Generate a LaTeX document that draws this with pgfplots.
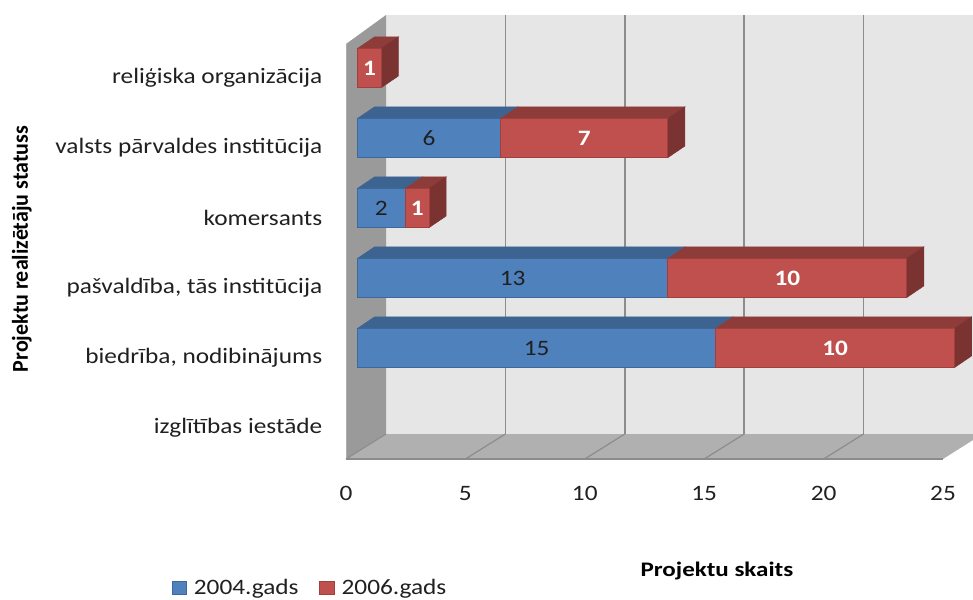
\documentclass[border=0pt]{standalone}
\usepackage{fontspec}
\setmainfont{Carlito}
\newfontfamily\wide[FakeStretch=1.15]{Carlito}
\newfontfamily\widebold[FakeStretch=1.21]{Carlito}
\newfontfamily\narrowf[FakeStretch=0.97]{Carlito}
\usepackage{pgfplots}
\pgfplotsset{compat=1.18}
\newlength\pxu \setlength\pxu{0.75pt}
\definecolor{bfront}{HTML}{4F81BD}
\definecolor{bedge}{HTML}{3F689A}
\definecolor{btop}{HTML}{3D6390}
\definecolor{rfront}{HTML}{C0504D}
\definecolor{redge}{HTML}{A03F3C}
\definecolor{rtop}{HTML}{8E3C39}
\definecolor{rside}{HTML}{7B3331}
\definecolor{wallL}{HTML}{9A9A9A}
\definecolor{wallB}{HTML}{E6E6E6}
\definecolor{floorc}{HTML}{B0B0B0}
\definecolor{gridc}{HTML}{8C8C8C}
\definecolor{txt}{HTML}{202020}
% top and side faces of a bar segment from #1 to #2 in row #3
\newcommand{\topface}[4]{%
  \pgfmathsetmacro\ya{#3+0.279}\pgfmathsetmacro\yb{#3+0.279+0.165}%
  \pgfmathsetmacro\xc{#2+0.712}\pgfmathsetmacro\xd{#1+0.712}%
  \addplot[fill=#4,draw=#4] coordinates {(#1,\ya)(#2,\ya)(\xc,\yb)(\xd,\yb)} --cycle;}
\newcommand{\sideface}[2]{%
  \pgfmathsetmacro\ya{#2+0.279}\pgfmathsetmacro\yb{#2+0.279+0.165}%
  \pgfmathsetmacro\yc{#2-0.279}\pgfmathsetmacro\yd{#2-0.279+0.165}%
  \pgfmathsetmacro\xc{#1+0.712}%
  \addplot[fill=rside,draw=rside] coordinates {(#1,\ya)(\xc,\yb)(\xc,\yd)(#1,\yc)} --cycle;}
\pgfplotsset{base/.style={
  scale only axis,width=597\pxu,height=415\pxu,
  xmin=0,xmax=25,ymin=-0.5857,ymax=5.3429,clip=false}}
\begin{document}
\begin{tikzpicture}
\path[use as bounding box] (0,0) rectangle (973\pxu,599\pxu);
% walls, floor, grid, ticks
\begin{axis}[base,at={(346\pxu,140\pxu)},anchor=south west,
  axis line style={draw=none},major tick length=0pt,
  xtick={0,5,10,15,20,25},
  ytick={0,1,2,3,4,5},
  yticklabels={izglītības iestāde,{biedrība, nodibinājums},{pašvaldība, tās institūcija},komersants,valsts pārvaldes institūcija,reliģiska organizācija},
  /pgf/number format/assume math mode=true,
  tick label style={font=\fontsize{16.5}{19}\wide,text=txt},
  xticklabel style={yshift=-23\pxu},
  yticklabel style={anchor=east,xshift=-19\pxu,yshift=-10\pxu},
  xlabel={Projektu skaits},ylabel={Projektu realizētāju statuss},
  every axis x label/.style={at={(axis description cs:0.6214,-0.27)},anchor=center,font=\fontsize{15.5}{18}\selectfont\bfseries\widebold,text=black},
  every axis y label/.style={at={(axis description cs:-0.543,0.506)},rotate=90,anchor=center,font=\fontsize{17}{20}\selectfont\bfseries\narrowf,text=black},
]
\addplot[fill=wallB,draw=none] coordinates {(1.675,-0.2286)(26.26,-0.2286)(26.26,5.757)(1.675,5.757)} --cycle;
\addplot[fill=wallL,draw=none] coordinates {(0,-0.5857)(1.675,-0.2286)(1.675,5.757)(0,5.3429)} --cycle;
\addplot[fill=floorc,draw=none] coordinates {(0,-0.5857)(25,-0.5857)(26.26,-0.3143)(26.26,-0.2286)(1.675,-0.2286)} --cycle;
\addplot[gridc!70,line width=0.6pt] coordinates {(0,5.3429)(0,-0.5857)};
\addplot[gridc,line width=1.2pt] coordinates {(0,-0.5857)(25,-0.5857)};
\addplot[gridc,line width=0.8pt] coordinates {(0,-0.5857)(1.675,-0.2286)};
\addplot[gridc,line width=1.2pt] coordinates {(6.675,-0.2286)(6.675,5.757)};
\addplot[gridc,line width=1.2pt] coordinates {(11.675,-0.2286)(11.675,5.757)};
\addplot[gridc,line width=1.2pt] coordinates {(16.675,-0.2286)(16.675,5.757)};
\addplot[gridc,line width=1.2pt] coordinates {(21.675,-0.2286)(21.675,5.757)};
\addplot[gridc,line width=0.9pt] coordinates {(5,-0.5857)(6.675,-0.2286)};
\addplot[gridc,line width=0.9pt] coordinates {(10,-0.5857)(11.675,-0.2286)};
\addplot[gridc,line width=0.9pt] coordinates {(15,-0.5857)(16.675,-0.2286)};
\addplot[gridc,line width=0.9pt] coordinates {(20,-0.5857)(21.675,-0.2286)};
\end{axis}
% 3D faces of the bars
\begin{axis}[base,hide axis,at={(357.5\pxu,140\pxu)},anchor=south west]
\topface{0}{15}{1}{btop}\topface{15}{25}{1}{rtop}\sideface{25}{1}
\topface{0}{13}{2}{btop}\topface{13}{23}{2}{rtop}\sideface{23}{2}
\topface{0}{2}{3}{btop}\topface{2}{3}{3}{rtop}\sideface{3}{3}
\topface{0}{6}{4}{btop}\topface{6}{13}{4}{rtop}\sideface{13}{4}
\topface{0}{1}{5}{rtop}\sideface{1}{5}
\end{axis}
% front of the bars
\begin{axis}[base,hide axis,at={(357.5\pxu,140\pxu)},anchor=south west,
  xbar stacked,reverse stacked plots=false,bar width=39\pxu,
  legend style={at={(axis description cs:-0.312,-0.311)},anchor=west,draw=none,fill=none,
    legend columns=2,font=\fontsize{16.5}{19}\wide,text=txt,
    /tikz/every odd column/.append style={column sep=4\pxu},
    /tikz/every even column/.append style={column sep=18\pxu},inner sep=0pt},
  legend image code/.code={\draw[#1] (0pt,-4.5pt) rectangle (11pt,5.2pt);},
]
\addplot[fill=bfront,draw=bedge,line width=0.8pt] coordinates {(15,1)(13,2)(2,3)(6,4)(0,5)};
\addplot[fill=rfront,draw=redge,line width=0.8pt] coordinates {(10,1)(10,2)(1,3)(7,4)(1,5)};
\legend{2004.gads,2006.gads}
\end{axis}
% data labels
\begin{axis}[base,hide axis,at={(357.5\pxu,140\pxu)},anchor=south west]
\node[font=\fontsize{16.5}{19}\wide,text=txt] at (axis cs:7.5,1) {15};
\node[font=\fontsize{16.5}{19}\wide,text=txt] at (axis cs:6.5,2) {13};
\node[font=\fontsize{16.5}{19}\wide,text=txt] at (axis cs:1,3) {2};
\node[font=\fontsize{16.5}{19}\wide,text=txt] at (axis cs:3,4) {6};
\node[font=\fontsize{16.5}{19}\selectfont\bfseries\wide,text=white] at (axis cs:20,1) {10};
\node[font=\fontsize{16.5}{19}\selectfont\bfseries\wide,text=white] at (axis cs:18,2) {10};
\node[font=\fontsize{16.5}{19}\selectfont\bfseries\wide,text=white] at (axis cs:2.5,3) {1};
\node[font=\fontsize{16.5}{19}\selectfont\bfseries\wide,text=white] at (axis cs:9.5,4) {7};
\node[font=\fontsize{16.5}{19}\selectfont\bfseries\wide,text=white] at (axis cs:0.5,5) {1};
\end{axis}
\end{tikzpicture}
\end{document}
